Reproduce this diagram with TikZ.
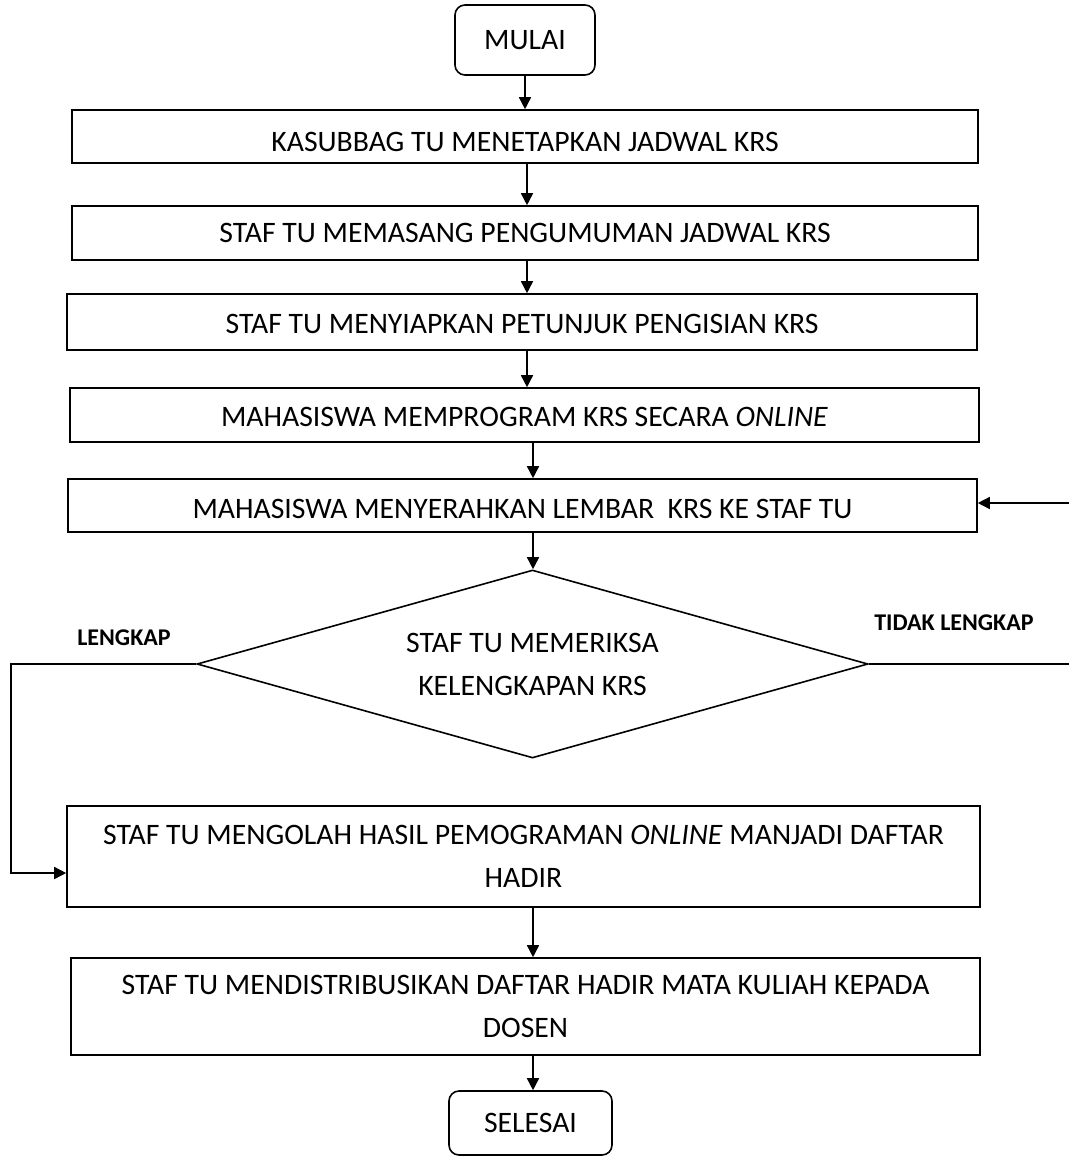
\documentclass[tikz,border=0pt]{standalone}
\usepackage{fontspec}
\setmainfont{Carlito}
\usetikzlibrary{arrows.meta,shapes.geometric}

% lower the ink of a text without changing its reported size
\newcommand{\sinktext}[2]{\raisebox{-#1}[\height][\depth]{#2}}

\begin{document}
\begin{tikzpicture}[x=1pt,y=-1pt,
  line width=1.6pt,
  every node/.style={font=\fontsize{29.7}{43}\selectfont},
  procbox/.style={draw, rectangle, inner sep=0pt, align=center},
  termbox/.style={draw, rectangle, rounded corners=10pt, inner sep=0pt, align=center},
  decbox/.style={draw, diamond, aspect=3.57, inner sep=0pt, align=center,
                 minimum width=671pt, minimum height=188pt},
  lbl/.style={font=\fontsize{24}{27}\selectfont\bfseries},
  flow/.style={-{Triangle[length=12pt,width=12pt]}}
]
\useasboundingbox (0,0) rectangle (1068,1158);

% start / end
\node[termbox, minimum width=140pt, minimum height=70pt] (mulai) at (525,40) {MULAI};
\node[termbox, minimum width=163pt, minimum height=64pt] (selesai) at (530.5,1123) {SELESAI};

% process steps
\node[procbox, minimum width=906pt, minimum height=53pt] (b1) at (525,136.5)
  {\sinktext{5pt}{KASUBBAG TU MENETAPKAN JADWAL KRS}};
\node[procbox, minimum width=906pt, minimum height=54pt] (b2) at (525,233)
  {STAF TU MEMASANG PENGUMUMAN JADWAL KRS};
\node[procbox, minimum width=910pt, minimum height=56pt] (b3) at (522,322)
  {\sinktext{2pt}{STAF TU MENYIAPKAN PETUNJUK PENGISIAN KRS}};
\node[procbox, minimum width=909pt, minimum height=54pt] (b4) at (524.5,415)
  {\sinktext{2pt}{MAHASISWA MEMPROGRAM KRS SECARA \textit{ONLINE}}};
\node[procbox, minimum width=909pt, minimum height=53pt] (b5) at (522.5,505.5)
  {\sinktext{3pt}{MAHASISWA MENYERAHKAN LEMBAR\ \ KRS KE STAF TU}};
\node[decbox] (dec) at (532.5,664)
  {STAF TU MEMERIKSA\\KELENGKAPAN KRS};
\node[procbox, minimum width=913pt, minimum height=101pt] (b6) at (523.5,856.5)
  {STAF TU MENGOLAH HASIL PEMOGRAMAN \textit{ONLINE} MANJADI DAFTAR\\HADIR};
\node[procbox, minimum width=909pt, minimum height=97pt] (b7) at (525.5,1006.5)
  {STAF TU MENDISTRIBUSIKAN DAFTAR HADIR MATA KULIAH KEPADA\\DOSEN};

% branch labels
\node[lbl] (lengkap) at (124,638) {LENGKAP};
\node[lbl] (tidak) at (954,623) {TIDAK LENGKAP};

% spine positions
\coordinate (sA) at (527,0);
\coordinate (sB) at (533,0);

% main flow
\draw[flow] (mulai.south) -- (mulai.south |- b1.north);
\draw[flow] (b1.south -| sA) -- (b2.north -| sA);
\draw[flow] (b2.south -| sA) -- (b3.north -| sA);
\draw[flow] (b3.south -| sA) -- (b4.north -| sA);
\draw[flow] (b4.south -| sB) -- (b5.north -| sB);
\draw[flow] (b5.south -| sB) -- (dec.north -| sB);
\draw[flow] (b6.south -| sB) -- (b7.north -| sB);
\draw[flow] (b7.south -| sB) -- (selesai.north -| sB);

% complete: go round on the left to the processing step
\coordinate (lkTop) at (11,664);
\coordinate (lkBot) at (11,873);
\draw[flow] (dec.west) -- (lkTop) -- (lkBot) -- (lkBot -| b6.west);

% incomplete: back round on the right to the hand-in step
\coordinate (tlBot) at (1072,664);
\coordinate (tlTop) at (1072,503);
\draw[flow] (dec.east) -- (tlBot) -- (tlTop) -- (tlTop -| b5.east);
\end{tikzpicture}
\end{document}
